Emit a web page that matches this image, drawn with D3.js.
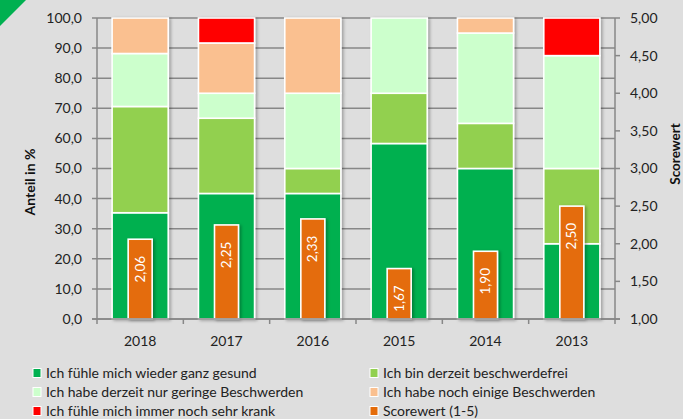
<!DOCTYPE html>
<html>
<head>
<meta charset="utf-8">
<script src="https://cdn.jsdelivr.net/npm/d3@7"></script>
<style>
  body { margin: 0; background: #dedede; }
  svg { display: block; font-family: Lato, "Open Sans", sans-serif; }
</style>
</head>
<body>
<div id="chart"></div>
<script>
// data
var years = ["2018", "2017", "2016", "2015", "2014", "2013"];
var gesund = [35.3, 41.7, 41.7, 58.3, 50, 25];
var beschwerdefrei = [35.3, 25, 8.3, 16.7, 15, 25];
var gering = [17.6, 8.3, 25, 25, 30, 37.5];
var einige = [11.8, 16.7, 25, 0, 5, 0];
var krank = [0, 8.3, 0, 0, 0, 12.5];
var score = [2.06, 2.25, 2.33, 1.67, 1.90, 2.50];

var seriesNames = [
  "Ich fühle mich wieder ganz gesund",
  "Ich bin derzeit beschwerdefrei",
  "Ich habe derzeit nur geringe Beschwerden",
  "Ich habe noch einige Beschwerden",
  "Ich fühle mich immer noch sehr krank"
];
var scoreName = "Scorewert (1-5)";
var colours = ["#00b050", "#92d050", "#ccffcc", "#fac090", "#ff0000"];
var scoreColour = "#e46c0a";

var leftTicks = d3.range(0, 101, 10);
var rightTicks = d3.range(1, 5.01, 0.5);

var width = 683, height = 419;
var margin = {left: 97, right: 68, top: 18, bottom: 100};

var svg = d3.select("#chart").append("svg")
  .attr("width", width)
  .attr("height", height);

svg.append("rect").attr("width", width).attr("height", height).attr("fill", "#dedede");

// shadow for the bars
var defs = svg.append("defs");
defs.append("filter").attr("id", "shadow")
  .attr("x", "-20%").attr("y", "-20%").attr("width", "150%").attr("height", "150%")
  .append("feDropShadow")
  .attr("dx", 2).attr("dy", 1).attr("stdDeviation", 1.8)
  .attr("flood-color", "#000").attr("flood-opacity", 0.28);

// corner triangle
svg.append("path").attr("d", "M0,0 L26,0 L0,26 Z").attr("fill", "#00b050");

var x = d3.scaleBand()
  .domain(years)
  .range([margin.left, width - margin.right])
  .paddingInner(0.35)
  .paddingOuter(0.175);

var yL = d3.scaleLinear().domain([0, 100]).range([height - margin.bottom, margin.top]);
var yR = d3.scaleLinear().domain([1, 5]).range([height - margin.bottom, margin.top]);

var gridCol = "#878787";
var x0 = margin.left, x1 = width - margin.right;

// grid lines
svg.append("g").selectAll("line")
  .data(leftTicks)
  .enter().append("line")
  .attr("x1", x0 - 5).attr("x2", x1)
  .attr("y1", d => yL(d)).attr("y2", d => yL(d))
  .attr("stroke", gridCol).attr("stroke-width", 1.5);

// stacked bars
var table = years.map(function(y, i) {
  return {year: y, s0: gesund[i], s1: beschwerdefrei[i], s2: gering[i], s3: einige[i], s4: krank[i]};
});
var stack = d3.stack().keys(["s0", "s1", "s2", "s3", "s4"]);
var stacked = stack(table);

var barsG = svg.append("g").attr("filter", "url(#shadow)");
stacked.forEach(function(layer, k) {
  barsG.selectAll(".l" + k)
    .data(layer.filter(d => d[1] - d[0] > 0))
    .enter().append("rect")
    .attr("x", d => x(d.data.year))
    .attr("width", x.bandwidth())
    .attr("y", d => yL(d[1]))
    .attr("height", d => yL(d[0]) - yL(d[1]))
    .attr("fill", colours[k])
    .attr("stroke", "#ffffff")
    .attr("stroke-width", 1.6);
});

// score bars
var sw = 24;
var scoreG = svg.append("g");
scoreG.selectAll("rect")
  .data(years)
  .enter().append("rect")
  .attr("x", (d) => x(d) + x.bandwidth() / 2 - sw / 2)
  .attr("width", sw)
  .attr("y", (d, i) => yR(score[i]))
  .attr("height", (d, i) => yR(1) - yR(score[i]))
  .attr("fill", scoreColour)
  .attr("stroke", "#ffffff")
  .attr("stroke-width", 1.6)
  .attr("filter", "url(#shadow)");

scoreG.selectAll("text")
  .data(years)
  .enter().append("text")
  .attr("transform", (d, i) => "translate(" + (x(d) + x.bandwidth() / 2 + 4.5) + "," + (yR(score[i]) + 30) + ") rotate(-90)")
  .attr("text-anchor", "middle")
  .attr("fill", "#ffffff")
  .style("font-size", "13.5px")
  .text((d, i) => d3.format(".2f")(score[i]).replace(".", ","));

// axes lines
var axisG = svg.append("g");
var yBase = yL(0);
axisG.append("line").attr("x1", x0).attr("x2", x0).attr("y1", margin.top).attr("y2", yBase + 5)
  .attr("stroke", gridCol).attr("stroke-width", 1.5);
axisG.append("line").attr("x1", x1).attr("x2", x1).attr("y1", margin.top).attr("y2", yBase + 5)
  .attr("stroke", gridCol).attr("stroke-width", 1.5);
axisG.append("line").attr("x1", x0 - 5).attr("x2", x1 + 5).attr("y1", yBase).attr("y2", yBase)
  .attr("stroke", gridCol).attr("stroke-width", 1.5);

// right ticks
axisG.selectAll(".rt")
  .data(rightTicks)
  .enter().append("line")
  .attr("x1", x1).attr("x2", x1 + 5)
  .attr("y1", d => yR(d)).attr("y2", d => yR(d))
  .attr("stroke", gridCol).attr("stroke-width", 1.5);

// category boundary ticks
var bounds = years.map(d => x(d) - x.step() * x.paddingInner() / 2).slice(1);
axisG.selectAll(".bt")
  .data(bounds)
  .enter().append("line")
  .attr("x1", d => d).attr("x2", d => d)
  .attr("y1", yBase).attr("y2", yBase + 5)
  .attr("stroke", gridCol).attr("stroke-width", 1.5);

// tick labels
var fmtL = v => d3.format(".1f")(v).replace(".", ",");
var fmtR = v => d3.format(".2f")(v).replace(".", ",");

svg.append("g").selectAll("text")
  .data(leftTicks)
  .enter().append("text")
  .attr("x", 82).attr("y", d => yL(d))
  .attr("dy", "0.35em")
  .attr("text-anchor", "end")
  .attr("fill", "#222")
  .style("font-size", "14px")
  .text(fmtL);

svg.append("g").selectAll("text")
  .data(rightTicks)
  .enter().append("text")
  .attr("x", 630).attr("y", d => yR(d))
  .attr("dy", "0.35em")
  .attr("fill", "#222")
  .style("font-size", "14px")
  .text(fmtR);

svg.append("g").selectAll("text")
  .data(years)
  .enter().append("text")
  .attr("x", d => x(d) + x.bandwidth() / 2)
  .attr("y", 346)
  .attr("text-anchor", "middle")
  .attr("fill", "#222")
  .style("font-size", "14px")
  .text(d => d);

// axis titles
svg.append("text")
  .attr("transform", "translate(35,182) rotate(-90)")
  .attr("text-anchor", "middle")
  .attr("fill", "#111")
  .style("font-size", "14px").style("font-weight", "bold")
  .text("Anteil in %");

svg.append("text")
  .attr("transform", "translate(680,154) rotate(-90)")
  .attr("text-anchor", "middle")
  .attr("fill", "#111")
  .style("font-size", "13.5px").style("font-weight", "bold")
  .text("Scorewert");

// legend
var legendItems = seriesNames.map((n, i) => ({name: n, colour: colours[i]}));
legendItems.push({name: scoreName, colour: scoreColour});
var legend = svg.append("g").selectAll("g")
  .data(legendItems)
  .enter().append("g")
  .attr("transform", (d, i) => "translate(" + (i % 2 === 0 ? 33 : 370) + "," + (373 + Math.floor(i / 2) * 19) + ")");
legend.append("rect")
  .attr("x", 0).attr("y", -4.5).attr("width", 8).attr("height", 9)
  .attr("fill", d => d.colour)
  .attr("stroke", "#fff").attr("stroke-width", 1);
legend.append("text")
  .attr("x", 13).attr("y", 0).attr("dy", "0.35em")
  .attr("fill", "#222")
  .style("font-size", "14px")
  .text(d => d.name);
</script>
</body>
</html>
